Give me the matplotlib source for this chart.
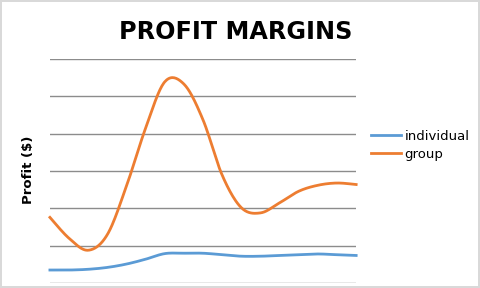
import numpy as np
import matplotlib
matplotlib.use('Agg')
import matplotlib.pyplot as plt

# 数据 (读图估计, 17个等距点)
points = list(range(17))
individual = [0.35, 0.35, 0.37, 0.42, 0.51, 0.64, 0.79, 0.80, 0.80,
              0.76, 0.72, 0.72, 0.74, 0.76, 0.78, 0.76, 0.74]
group = [1.76, 1.20, 0.88, 1.30, 2.60, 4.15, 5.39, 5.33, 4.37,
         2.89, 2.02, 1.88, 2.15, 2.46, 2.62, 2.68, 2.64]


def smooth(x, y, n=20):
    '''
    类似Excel平滑线的Catmull-Rom曲线
    '''
    x = np.asarray(x, float)
    y = np.asarray(y, float)
    px = np.concatenate([[x[0]], x, [x[-1]]])
    py = np.concatenate([[y[0]], y, [y[-1]]])
    xs, ys = [], []
    t = np.linspace(0, 1, n, endpoint=False)
    for i in range(1, len(px) - 2):
        for p, out in ((px, xs), (py, ys)):
            p0, p1, p2, p3 = p[i - 1], p[i], p[i + 1], p[i + 2]
            m1 = (p2 - p0) / 2
            m2 = (p3 - p1) / 2
            h = ((2 * t**3 - 3 * t**2 + 1) * p1 + (t**3 - 2 * t**2 + t) * m1
                 + (-2 * t**3 + 3 * t**2) * p2 + (t**3 - t**2) * m2)
            out.extend(h)
    xs.append(x[-1])
    ys.append(y[-1])
    return xs, ys


fig = plt.figure(figsize=(4.8, 2.88), dpi=100)
fig.patch.set_edgecolor('#d9d9d9')
fig.patch.set_linewidth(1.5)
ax = fig.add_axes([0.104, 0.017, 0.638, 0.778])

# 网格线
ax.set_ylim(0, 6)
ax.set_xlim(points[0], points[-1])
ax.set_yticks(range(7))
ax.yaxis.grid(True, color='#8c8c8c', linewidth=1)
ax.set_axisbelow(True)
ax.tick_params(left=False, bottom=False, labelleft=False, labelbottom=False)
for s in ax.spines.values():
    s.set_visible(False)

x1, y1 = smooth(points, individual)
x2, y2 = smooth(points, group)
ax.plot(x1, y1, color='#5B9BD5', linewidth=2, label='individual', clip_on=False)
ax.plot(x2, y2, color='#ED7D31', linewidth=2, label='group', clip_on=False)

fig.text(0.492, 0.89, 'PROFIT MARGINS', fontsize=17.2, fontweight='bold', ha='center', va='center')
fig.text(0.06, 0.41, 'Profit ($)', fontsize=9.5, fontweight='bold', rotation=90, ha='center', va='center')

fig.legend(loc='center left', bbox_to_anchor=(0.7475, 0.495), frameon=False,
           fontsize=9.5, handlelength=2.27, handletextpad=0.3, labelspacing=0.38)

plt.savefig('out.png', dpi=100, edgecolor=fig.get_edgecolor())
